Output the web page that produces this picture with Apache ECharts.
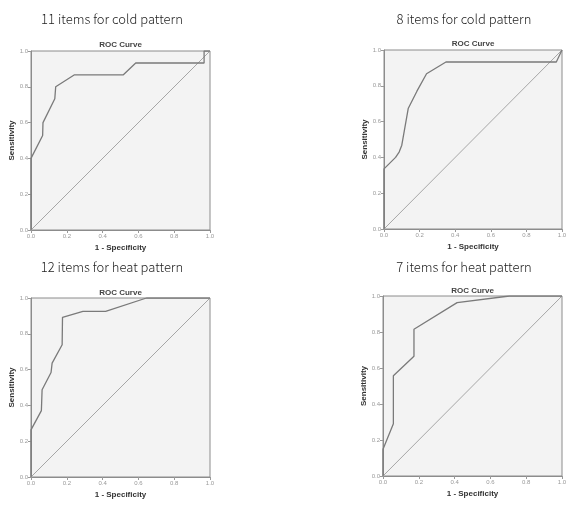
<!DOCTYPE html>
<html>
<head>
<meta charset="utf-8">
<script src="https://cdn.jsdelivr.net/npm/echarts@6/dist/echarts.min.js"></script>
<style>
  html, body { margin: 0; padding: 0; background: #fff; }
  #chart { width: 576px; height: 514px; }
</style>
</head>
<body>
<div id="chart"></div>
<script>
  // panel titles
  let panelTitles = ['11 items for cold pattern', '8 items for cold pattern', '12 items for heat pattern', '7 items for heat pattern']
  let tickLabels = ['0.0', '0.2', '0.4', '0.6', '0.8', '1.0']

  // ROC points: 1 - specificity / sensitivity
  let cold11X = [0, 0, 0.065, 0.067, 0.133, 0.138, 0.243, 0.516, 0.585, 0.967, 0.967, 1]
  let cold11Y = [0, 0.40, 0.528, 0.60, 0.733, 0.80, 0.867, 0.867, 0.933, 0.933, 1, 1]

  let cold8X = [0, 0, 0.065, 0.085, 0.10, 0.136, 0.185, 0.239, 0.348, 0.968, 1]
  let cold8Y = [0, 0.336, 0.40, 0.43, 0.468, 0.673, 0.77, 0.867, 0.933, 0.933, 1]

  let heat12X = [0, 0, 0.058, 0.062, 0.112, 0.118, 0.174, 0.176, 0.29, 0.417, 0.645, 1]
  let heat12Y = [0, 0.263, 0.371, 0.487, 0.584, 0.636, 0.739, 0.892, 0.925, 0.925, 1, 1]

  let heat7X = [0, 0, 0.058, 0.058, 0.173, 0.173, 0.414, 0.706, 1]
  let heat7Y = [0, 0.148, 0.29, 0.557, 0.665, 0.815, 0.963, 1, 1]

  let refX = [0, 1]
  let refY = [0, 1]

  let curves = [[cold11X, cold11Y], [cold8X, cold8Y], [heat12X, heat12Y], [heat7X, heat7Y]]

  // layout of the four plots
  let grids = [
    { left: 31, top: 51, width: 179, height: 179, head: 20, sub: 45.5, cx: 112 },
    { left: 384, top: 50, width: 178, height: 179, head: 20, sub: 44, cx: 464 },
    { left: 31, top: 298, width: 179, height: 179, head: 268, sub: 293, cx: 112 },
    { left: 383, top: 296, width: 179, height: 180, head: 268, sub: 291, cx: 464 }
  ]

  function pairs (xs, ys) {
    return xs.map((x, i) => [x, ys[i]])
  }

  let chart = echarts.init(document.getElementById('chart'))
  let titles = []
  let gridOpts = []
  let xAxes = []
  let yAxes = []
  let series = []

  grids.forEach((g, i) => {
    titles.push({
      text: panelTitles[i],
      left: g.cx,
      top: g.head - 7,
      textAlign: 'center',
      padding: 0,
      textStyle: { fontFamily: 'Noto Sans CJK KR', fontWeight: 300, fontSize: 13, color: '#222' }
    })
    titles.push({
      text: 'ROC Curve',
      left: g.left + g.width / 2,
      top: g.sub - 4.5,
      textAlign: 'center',
      padding: 0,
      textStyle: { fontFamily: 'Liberation Sans', fontWeight: 'bold', fontSize: 8, color: '#444' }
    })
    gridOpts.push({
      left: g.left, top: g.top, width: g.width, height: g.height,
      show: true, backgroundColor: '#f3f3f3', borderColor: '#8c8c8c', borderWidth: 1
    })
    let axisBase = {
      type: 'value', min: 0, max: 1, interval: 0.2,
      gridIndex: i,
      nameLocation: 'middle',
      nameTextStyle: { fontFamily: 'Liberation Sans', fontWeight: 'bold', fontSize: 8, color: '#333' },
      axisLine: { show: true, lineStyle: { color: '#8c8c8c', width: 1 } },
      axisTick: { show: true, length: 3, lineStyle: { color: '#999' } },
      splitLine: { show: false },
      axisLabel: {
        fontSize: 6, color: '#999', margin: 3, fontFamily: 'Liberation Sans',
        formatter: (v) => tickLabels[Math.round(v * 5)]
      }
    }
    xAxes.push(Object.assign({}, axisBase, { name: '1 - Specificity', nameGap: 14 }))
    yAxes.push(Object.assign({}, axisBase, { name: 'Sensitivity', nameGap: 15 }))

    series.push({
      type: 'line', xAxisIndex: i, yAxisIndex: i,
      data: pairs(refX, refY),
      showSymbol: false, silent: true,
      lineStyle: { color: '#a6a6a6', width: 1 }
    })
    series.push({
      type: 'line', xAxisIndex: i, yAxisIndex: i,
      data: pairs(curves[i][0], curves[i][1]),
      showSymbol: false, silent: true,
      lineStyle: { color: '#7a7a7a', width: 1.3 }
    })
  })

  chart.setOption({
    animation: false,
    backgroundColor: '#fff',
    title: titles,
    grid: gridOpts,
    xAxis: xAxes,
    yAxis: yAxes,
    series: series
  })
</script>
</body>
</html>
